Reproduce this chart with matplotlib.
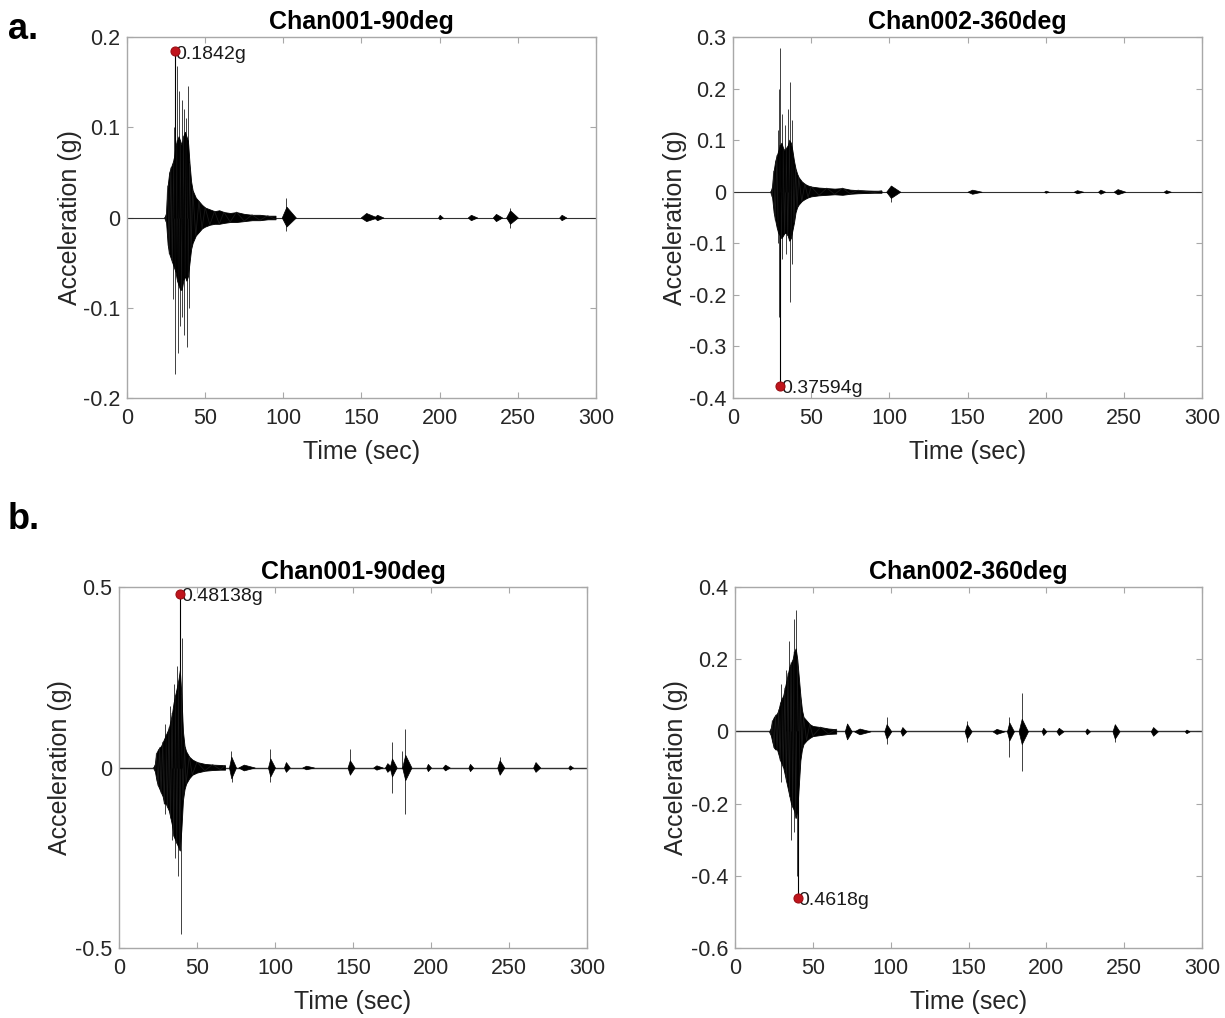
import matplotlib
matplotlib.use("Agg")
import matplotlib.pyplot as plt

plt.rcParams['font.family'] = ['Liberation Sans', 'DejaVu Sans']

# ---------------- data ----------------
record_t = [0, 300]

# ---- a. Chan001-90deg ----
a1_core_t = [24, 25, 26, 27, 28, 29, 30, 31, 32, 33, 34, 35, 36, 37, 38, 39, 40, 41, 42, 44, 46, 48, 50, 53, 56, 59, 62, 66, 70, 75, 80, 85, 90, 95]
a1_core_hi = [0, 0.005, 0.035, 0.05, 0.055, 0.06, 0.065, 0.08, 0.085, 0.09, 0.085, 0.08, 0.09, 0.095, 0.09, 0.085, 0.06, 0.04, 0.03, 0.022, 0.018, 0.014, 0.011, 0.009, 0.007, 0.008, 0.006, 0.005, 0.006, 0.004, 0.003, 0.003, 0.002, 0.002]
a1_core_lo = [0, -0.005, -0.03, -0.04, -0.045, -0.05, -0.055, -0.06, -0.07, -0.075, -0.08, -0.08, -0.07, -0.065, -0.07, -0.065, -0.05, -0.035, -0.028, -0.02, -0.016, -0.012, -0.01, -0.008, -0.007, -0.007, -0.006, -0.005, -0.005, -0.004, -0.003, -0.003, -0.002, -0.002]
a1_ev_t = [102, 153, 160, 200, 220, 236, 245, 278]
a1_ev_w = [6, 7, 4, 2, 4, 4, 5, 3]
a1_ev_hi = [0.012, 0.005, 0.003, 0.003, 0.003, 0.004, 0.008, 0.003]
a1_ev_lo = [-0.010, -0.004, -0.003, -0.002, -0.003, -0.004, -0.007, -0.003]
a1_spike_t = [30.7, 31.8, 33.5, 35.0, 36.2, 39.2, 37.8, 29.8, 102, 30.7, 32.6, 33.8, 36.2, 38.6, 39.8, 29.2, 35.2, 102, 245, 245]
a1_spike_v = [0.1842, 0.168, 0.14, 0.13, 0.12, 0.146, 0.11, 0.10, 0.022, -0.173, -0.15, -0.12, -0.13, -0.144, -0.10, -0.09, -0.11, -0.015, 0.010, -0.012]
a1_peak = (30.7, 0.1842, "0.1842g")

# ---- a. Chan002-360deg ----
a2_core_t = [24, 25, 26, 27, 28, 29, 30, 31, 32, 33, 34, 35, 36, 37, 38, 39, 40, 41, 42, 44, 46, 48, 50, 55, 60, 65, 70, 75, 80, 90, 95]
a2_core_hi = [0, 0.01, 0.04, 0.06, 0.07, 0.08, 0.09, 0.095, 0.085, 0.08, 0.085, 0.09, 0.10, 0.095, 0.08, 0.06, 0.045, 0.035, 0.028, 0.02, 0.015, 0.012, 0.01, 0.008, 0.007, 0.006, 0.007, 0.004, 0.003, 0.002, 0.002]
a2_core_lo = [0, -0.01, -0.04, -0.055, -0.07, -0.08, -0.085, -0.09, -0.085, -0.08, -0.08, -0.085, -0.095, -0.09, -0.075, -0.06, -0.04, -0.03, -0.025, -0.018, -0.014, -0.011, -0.009, -0.007, -0.006, -0.005, -0.006, -0.004, -0.003, -0.002, -0.002]
a2_ev_t = [101, 153, 200, 220, 235, 246, 277]
a2_ev_w = [6, 6, 2, 4, 3, 5, 3]
a2_ev_hi = [0.012, 0.004, 0.002, 0.003, 0.004, 0.005, 0.003]
a2_ev_lo = [-0.012, -0.004, -0.002, -0.003, -0.004, -0.005, -0.003]
a2_spike_t = [30.2, 29.4, 36.5, 31.2, 35.5, 33.0, 37.5, 28.5, 30.2, 29.4, 36.5, 31.5, 34.0, 37.5, 28.5, 101, 101]
a2_spike_v = [0.278, 0.20, 0.213, 0.15, 0.16, 0.13, 0.14, 0.12, -0.37594, -0.242, -0.213, -0.13, -0.12, -0.14, -0.10, -0.02, 0.012]
a2_peak = (30.2, -0.37594, "0.37594g")

# ---- b. Chan001-90deg ----
b1_core_t = [22, 23, 24, 25, 26, 27, 28, 29, 30, 31, 32, 33, 34, 35, 36, 37, 38, 39, 40, 41, 42, 43, 45, 47, 50, 55, 60, 65, 68]
b1_core_hi = [0, 0.01, 0.04, 0.05, 0.055, 0.06, 0.07, 0.08, 0.09, 0.10, 0.11, 0.13, 0.15, 0.18, 0.20, 0.22, 0.24, 0.27, 0.20, 0.10, 0.06, 0.045, 0.03, 0.022, 0.015, 0.010, 0.008, 0.007, 0.006]
b1_core_lo = [0, -0.01, -0.035, -0.05, -0.06, -0.07, -0.08, -0.10, -0.10, -0.11, -0.12, -0.14, -0.16, -0.19, -0.20, -0.21, -0.22, -0.23, -0.17, -0.09, -0.06, -0.045, -0.03, -0.02, -0.014, -0.009, -0.007, -0.006, -0.006]
b1_ev_t = [72, 80, 97, 107, 120, 148, 165, 172, 175, 183.5, 198, 209, 225, 244, 267, 289]
b1_ev_w = [3, 7, 3, 2.5, 5, 3, 4, 3, 3, 4, 2, 3, 2, 3, 3, 2]
b1_ev_hi = [0.03, 0.008, 0.025, 0.015, 0.005, 0.02, 0.006, 0.012, 0.025, 0.035, 0.01, 0.008, 0.01, 0.02, 0.015, 0.006]
b1_ev_lo = [-0.03, -0.008, -0.025, -0.012, -0.005, -0.02, -0.006, -0.012, -0.025, -0.035, -0.01, -0.008, -0.01, -0.02, -0.012, -0.006]
b1_spike_t = [39.3, 40.1, 37.0, 35.0, 33.0, 29.2, 39.5, 38.0, 36.0, 29.2, 34.0, 71.5, 72.5, 97, 97, 148, 174.8, 174.8, 181.2, 183.3, 183.3, 244]
b1_spike_v = [0.48138, 0.36, 0.28, 0.23, 0.17, 0.12, -0.46, -0.30, -0.25, -0.13, -0.20, 0.045, -0.04, 0.05, -0.04, 0.05, 0.071, -0.071, 0.047, 0.107, -0.129, 0.03]
b1_peak = (39.3, 0.48138, "0.48138g")

# ---- b. Chan002-360deg ----
b2_core_t = [22, 23, 24, 25, 26, 27, 28, 29, 30, 31, 32, 33, 34, 35, 36, 37, 38, 39, 40, 41, 42, 43, 44, 46, 48, 50, 55, 60, 65]
b2_core_hi = [0, 0.01, 0.03, 0.04, 0.045, 0.05, 0.06, 0.08, 0.09, 0.10, 0.12, 0.14, 0.16, 0.18, 0.19, 0.20, 0.22, 0.23, 0.20, 0.15, 0.10, 0.06, 0.04, 0.03, 0.02, 0.015, 0.012, 0.008, 0.006]
b2_core_lo = [0, -0.01, -0.03, -0.045, -0.05, -0.05, -0.065, -0.08, -0.09, -0.10, -0.12, -0.14, -0.16, -0.18, -0.20, -0.21, -0.22, -0.24, -0.22, -0.15, -0.08, -0.05, -0.035, -0.025, -0.018, -0.013, -0.01, -0.007, -0.006]
b2_ev_t = [72, 80, 97.4, 107.5, 149, 168, 176.2, 184.2, 198, 208, 226, 244, 268.6, 290]
b2_ev_w = [3, 7, 3, 2.5, 3, 5, 3, 4, 2, 3, 2, 3, 3, 2]
b2_ev_hi = [0.022, 0.008, 0.02, 0.012, 0.02, 0.007, 0.025, 0.035, 0.01, 0.01, 0.008, 0.02, 0.012, 0.005]
b2_ev_lo = [-0.022, -0.008, -0.02, -0.012, -0.02, -0.007, -0.025, -0.035, -0.01, -0.01, -0.008, -0.02, -0.012, -0.005]
b2_spike_t = [39.5, 37.8, 35.0, 29.5, 33.0, 40.5, 40.0, 35.7, 29.5, 38.0, 97.4, 97.4, 149, 149, 176.2, 176.2, 184.2, 184.2, 244]
b2_spike_v = [0.335, 0.31, 0.25, 0.13, 0.17, -0.4618, -0.40, -0.30, -0.14, -0.28, 0.04, -0.035, 0.03, -0.03, 0.04, -0.071, 0.105, -0.11, -0.03]
b2_peak = (40.5, -0.4618, "0.4618g")

titles = ["Chan001-90deg", "Chan002-360deg", "Chan001-90deg", "Chan002-360deg"]
ylims = [(-0.2, 0.2), (-0.4, 0.3), (-0.5, 0.5), (-0.6, 0.4)]
yticks = [[-0.2, -0.1, 0, 0.1, 0.2],
          [-0.4, -0.3, -0.2, -0.1, 0, 0.1, 0.2, 0.3],
          [-0.5, 0, 0.5],
          [-0.6, -0.4, -0.2, 0, 0.2, 0.4]]
xticks = [0, 50, 100, 150, 200, 250, 300]

panels = [
    (a1_core_t, a1_core_hi, a1_core_lo, a1_ev_t, a1_ev_w, a1_ev_hi, a1_ev_lo, a1_spike_t, a1_spike_v, a1_peak),
    (a2_core_t, a2_core_hi, a2_core_lo, a2_ev_t, a2_ev_w, a2_ev_hi, a2_ev_lo, a2_spike_t, a2_spike_v, a2_peak),
    (b1_core_t, b1_core_hi, b1_core_lo, b1_ev_t, b1_ev_w, b1_ev_hi, b1_ev_lo, b1_spike_t, b1_spike_v, b1_peak),
    (b2_core_t, b2_core_hi, b2_core_lo, b2_ev_t, b2_ev_w, b2_ev_hi, b2_ev_lo, b2_spike_t, b2_spike_v, b2_peak),
]

# ---------------- layout ----------------
W, H = 1225, 1018
fig = plt.figure(figsize=(W / 100, H / 100), dpi=100)

boxes_px = [(127, 37, 596, 398), (733, 37, 1202, 398),
            (119, 587, 587, 948), (735, 587, 1202, 948)]
ylabel_off_px = [45, 46, 47, 47]

edge_col = '#a8a8a8'
text_col = '#262626'

for i, (box, p) in enumerate(zip(boxes_px, panels)):
    x0, y0, x1, y1 = box
    ax = fig.add_axes([x0 / W, 1 - y1 / H, (x1 - x0) / W, (y1 - y0) / H])
    core_t, core_hi, core_lo, ev_t, ev_w, ev_hi, ev_lo, sp_t, sp_v, peak = p

    # baseline of the record
    ax.plot(record_t, [0, 0], color='#303030', lw=1.0 if i >= 2 else 0.8, zorder=2)
    # main burst (dense core) with a jagged outline for texture
    ax.fill_between(core_t, core_lo, core_hi, color='black', lw=0.6, zorder=2)
    zig_y = [hi if k % 2 == 0 else lo for k, (hi, lo) in enumerate(zip(core_hi, core_lo))]
    ax.plot(core_t, zig_y, color='#202020', lw=0.6, alpha=0.8, zorder=2)
    # later small bursts
    for c, w, hi, lo in zip(ev_t, ev_w, ev_hi, ev_lo):
        ax.fill_between([c - 0.5 * w, c, c + w], [0, lo, 0], [0, hi, 0],
                        color='black', lw=0.5, zorder=2)
    # thin spikes
    ax.vlines(sp_t, 0, sp_v, color='black', lw=0.7, alpha=0.75, zorder=2)
    # peak marker and label
    pt, pv, plabel = peak
    ax.vlines([pt], 0, [pv], color='black', lw=0.8, zorder=2)
    ax.plot([pt], [pv], 'o', ms=6.5, mfc='#c0141c', mec='#9a0f14', mew=0.8, zorder=6)
    ax.annotate(plabel, (pt, pv), xytext=(0.5, -2), textcoords='offset points',
                ha='left', va='center', fontsize=14, color='#1a1a1a', zorder=5)

    ax.set_xlim(record_t[0], record_t[1])
    ax.set_ylim(*ylims[i])
    ax.set_xticks(xticks)
    ax.set_yticks(yticks[i])
    ax.set_yticklabels([('%g' % v) for v in yticks[i]])
    ax.tick_params(direction='in', top=True, right=True, length=4, width=0.8,
                   color=edge_col, labelcolor=text_col, labelsize=15.5)
    ax.tick_params(axis='x', pad=7)
    ax.tick_params(axis='y', pad=5)
    for s in ax.spines.values():
        s.set_color(edge_col)
        s.set_linewidth(1.0)
    ax.set_xlabel('Time (sec)', fontsize=18, color=text_col, labelpad=8)
    ax.set_ylabel('Acceleration (g)', fontsize=18, color=text_col)
    ax.yaxis.set_label_coords(-ylabel_off_px[i] / (x1 - x0), 0.5)
    ax.set_title(titles[i], fontsize=18, fontweight='bold', color='black', pad=6)

fig.text(8 / W, 1 - 12 / H, 'a.', fontsize=26, fontweight='bold', ha='left', va='top')
fig.text(8 / W, 1 - 502 / H, 'b.', fontsize=26, fontweight='bold', ha='left', va='top')

fig.savefig('out.png', dpi=100, facecolor='white')
